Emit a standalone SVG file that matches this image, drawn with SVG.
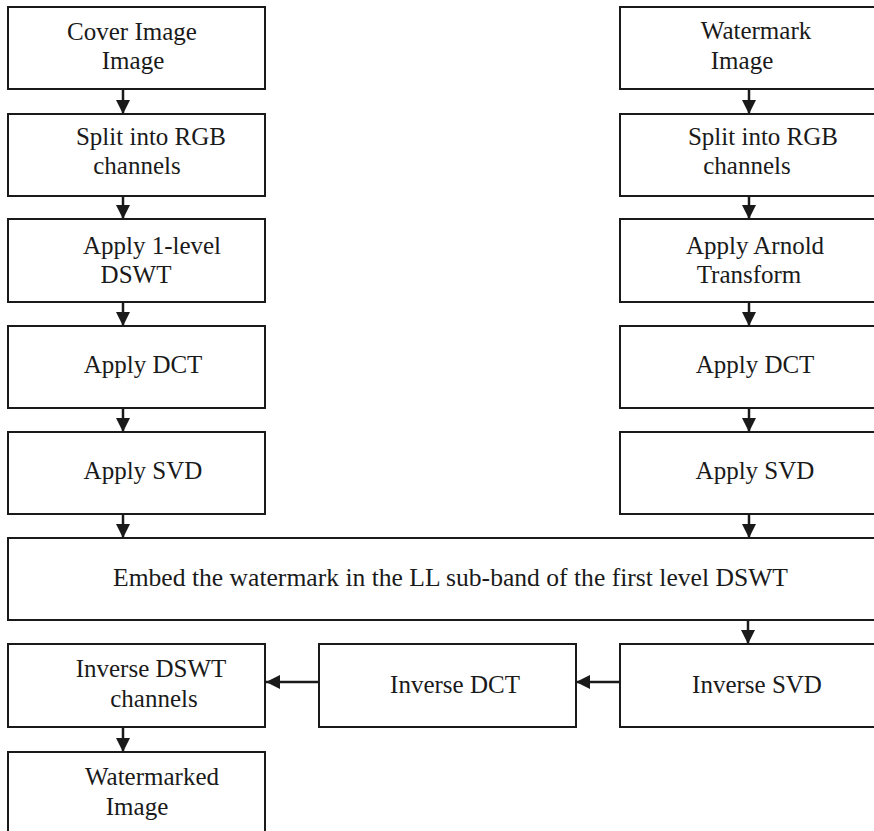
<svg xmlns="http://www.w3.org/2000/svg" width="874" height="831" viewBox="0 0 874 831">
<style>
.box{fill:#fff;stroke:#1a1a1a;stroke-width:2}
.t{font-family:"Liberation Serif","Times New Roman",serif;font-size:25px;fill:#1a1a1a;text-anchor:middle}
.c line{stroke:#1a1a1a;stroke-width:2.5}
</style>
<defs>
<marker id="ah" markerWidth="14" markerHeight="14" refX="14" refY="7" orient="auto" markerUnits="userSpaceOnUse">
<path d="M0,0 L14,7 L0,14 Z" fill="#1a1a1a"/>
</marker>
</defs>
<rect width="874" height="831" fill="#fff"/>
<g class="c">
<line x1="123" y1="89" x2="123" y2="114" marker-end="url(#ah)"/>
<line x1="123" y1="196" x2="123" y2="219" marker-end="url(#ah)"/>
<line x1="123" y1="302" x2="123" y2="326" marker-end="url(#ah)"/>
<line x1="123" y1="408" x2="123" y2="432" marker-end="url(#ah)"/>
<line x1="123" y1="514" x2="123" y2="538" marker-end="url(#ah)"/>
<line x1="749" y1="89" x2="749" y2="114" marker-end="url(#ah)"/>
<line x1="749" y1="196" x2="749" y2="219" marker-end="url(#ah)"/>
<line x1="749" y1="302" x2="749" y2="326" marker-end="url(#ah)"/>
<line x1="749" y1="408" x2="749" y2="432" marker-end="url(#ah)"/>
<line x1="749" y1="514" x2="749" y2="538" marker-end="url(#ah)"/>
<line x1="748" y1="620" x2="748" y2="644" marker-end="url(#ah)"/>
<line x1="620" y1="682" x2="576" y2="682" marker-end="url(#ah)"/>
<line x1="319" y1="682" x2="266" y2="682" marker-end="url(#ah)"/>
<line x1="123" y1="727" x2="123" y2="752" marker-end="url(#ah)"/>
</g>
<g id="cover">
<rect class="box" x="8" y="7" width="257" height="82"/>
<text class="t" x="132" y="40">Cover Image</text>
<text class="t" x="133" y="69">Image</text>
</g>
<g id="split-left">
<rect class="box" x="8" y="114" width="257" height="82"/>
<text class="t" x="151" y="145">Split into RGB</text>
<text class="t" x="137" y="174">channels</text>
</g>
<g id="dswt">
<rect class="box" x="8" y="219" width="257" height="83"/>
<text class="t" x="152" y="254">Apply 1-level</text>
<text class="t" x="136" y="283">DSWT</text>
</g>
<g id="dct-left">
<rect class="box" x="8" y="326" width="257" height="82"/>
<text class="t" x="143" y="373">Apply DCT</text>
</g>
<g id="svd-left">
<rect class="box" x="8" y="432" width="257" height="82"/>
<text class="t" x="143" y="479">Apply SVD</text>
</g>
<g id="watermark">
<rect class="box" x="620" y="7" width="257" height="82"/>
<text class="t" x="756" y="39">Watermark</text>
<text class="t" x="742" y="69">Image</text>
</g>
<g id="split-right">
<rect class="box" x="620" y="114" width="257" height="82"/>
<text class="t" x="763" y="145">Split into RGB</text>
<text class="t" x="747" y="174">channels</text>
</g>
<g id="arnold">
<rect class="box" x="620" y="219" width="257" height="83"/>
<text class="t" x="755" y="254">Apply Arnold</text>
<text class="t" x="749" y="283">Transform</text>
</g>
<g id="dct-right">
<rect class="box" x="620" y="326" width="257" height="82"/>
<text class="t" x="755" y="373">Apply DCT</text>
</g>
<g id="svd-right">
<rect class="box" x="620" y="432" width="257" height="82"/>
<text class="t" x="755" y="479">Apply SVD</text>
</g>
<g id="embed">
<rect class="box" x="8" y="538" width="869" height="82"/>
<text class="t" x="113" y="586" style="text-anchor:start;font-size:25.6px">Embed the watermark in the LL sub-band of the first level DSWT</text>
</g>
<g id="inv-svd">
<rect class="box" x="620" y="644" width="257" height="83"/>
<text class="t" x="757" y="693">Inverse SVD</text>
</g>
<g id="inv-dct">
<rect class="box" x="319" y="644" width="257" height="83"/>
<text class="t" x="455" y="693">Inverse DCT</text>
</g>
<g id="inv-dswt">
<rect class="box" x="8" y="644" width="257" height="83"/>
<text class="t" x="151" y="677">Inverse DSWT</text>
<text class="t" x="154" y="707">channels</text>
</g>
<g id="watermarked">
<rect class="box" x="8" y="752" width="257" height="84"/>
<text class="t" x="152" y="785">Watermarked</text>
<text class="t" x="137" y="815">Image</text>
</g>
</svg>
